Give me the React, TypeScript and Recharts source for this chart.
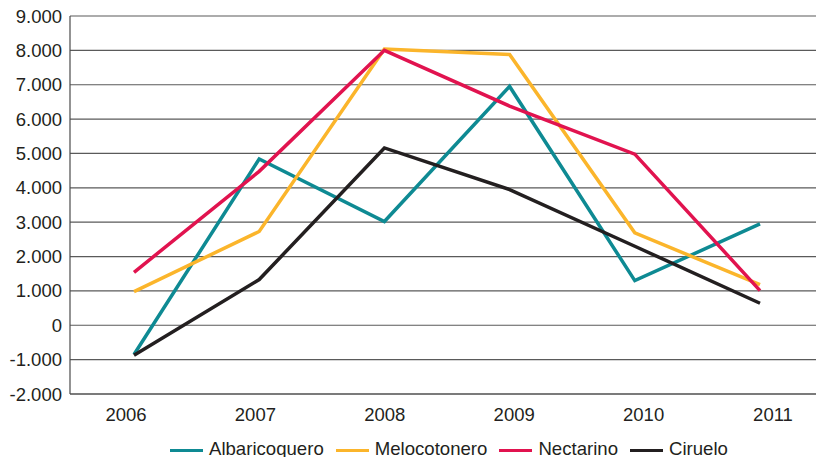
import React from 'react';
import { LineChart, Line, XAxis, YAxis, CartesianGrid, Legend } from 'recharts';

const years = ['2006', '2007', '2008', '2009', '2010', '2011'];
const albaricoquero = [-850, 4840, 3020, 6950, 1300, 2950];
const melocotonero = [980, 2730, 8040, 7880, 2690, 1180];
const nectarino = [1540, 4480, 8000, 6380, 4980, 1010];
const ciruelo = [-870, 1330, 5160, 3950, 2300, 640];
const yTicks = [-2000, -1000, 0, 1000, 2000, 3000, 4000, 5000, 6000, 7000, 8000, 9000];

const seriesDefs = [
  { key: 'Albaricoquero', values: albaricoquero, color: '#0e8a93' },
  { key: 'Melocotonero', values: melocotonero, color: '#fbb52b' },
  { key: 'Nectarino', values: nectarino, color: '#e1134f' },
  { key: 'Ciruelo', values: ciruelo, color: '#231f20' },
];

const data = years.map((year, i) => {
  const row: Record<string, string | number> = { year };
  seriesDefs.forEach((s) => {
    row[s.key] = s.values[i];
  });
  return row;
});

const fmt = (v: number) => {
  const neg = v < 0;
  const s = Math.abs(v).toString().replace(/\B(?=(\d{3})+(?!\d))/g, '.');
  return (neg ? '-' : '') + s;
};

const LegendContent = () => (
  <div
    style={{
      display: 'flex',
      alignItems: 'center',
      height: 22,
      paddingTop: 5,
      paddingLeft: 170,
      fontSize: 18.6,
      color: '#231f20',
      whiteSpace: 'nowrap',
      boxSizing: 'border-box',
    }}
  >
    {seriesDefs.map((s) => (
      <div key={s.key} style={{ display: 'flex', alignItems: 'center', marginRight: 12 }}>
        <div style={{ width: 33, height: 3, background: s.color, marginRight: 6, marginTop: 4 }} />
        <span>{s.key}</span>
      </div>
    ))}
  </div>
);

export default function App() {
  return (
    <div
      style={{
        position: 'absolute',
        left: 0,
        top: 0,
        width: 816,
        height: 457,
        overflow: 'hidden',
        background: '#fff',
        fontFamily: '"Liberation Sans", Arial, Helvetica, sans-serif',
      }}
    >
      <LineChart width={816} height={457} data={data} margin={{ top: 16, right: 0, left: 0, bottom: 0 }}>
        <CartesianGrid xAxisId="labels" vertical={false} stroke="#5a5a5a" strokeWidth={1.2} />
        <XAxis
          xAxisId="labels"
          dataKey="year"
          scale="point"
          padding={{ left: 56, right: 43 }}
          height={41}
          tickLine={false}
          tickSize={0}
          tickMargin={14}
          axisLine={{ stroke: '#4a4a4a', strokeWidth: 1.2 }}
          tick={{ fill: '#231f20', fontSize: 18.5 }}
          interval={0}
        />
        <XAxis
          xAxisId="data"
          dataKey="year"
          scale="point"
          padding={{ left: 64, right: 56 }}
          height={0}
          hide
        />
        <YAxis
          domain={[-2000, 9000]}
          ticks={yTicks}
          width={70}
          tickLine={false}
          tickSize={0}
          tickMargin={8}
          tickFormatter={fmt}
          axisLine={{ stroke: '#4a4a4a', strokeWidth: 1.2 }}
          tick={{ fill: '#231f20', fontSize: 18.5 }}
          interval={0}
        />
        <Legend verticalAlign="bottom" align="left" content={<LegendContent />} height={22} />
        {seriesDefs.map((s) => (
          <Line
            key={s.key}
            xAxisId="data"
            dataKey={s.key}
            stroke={s.color}
            strokeWidth={3.5}
            dot={false}
            activeDot={false}
            isAnimationActive={false}
          />
        ))}
      </LineChart>
    </div>
  );
}
